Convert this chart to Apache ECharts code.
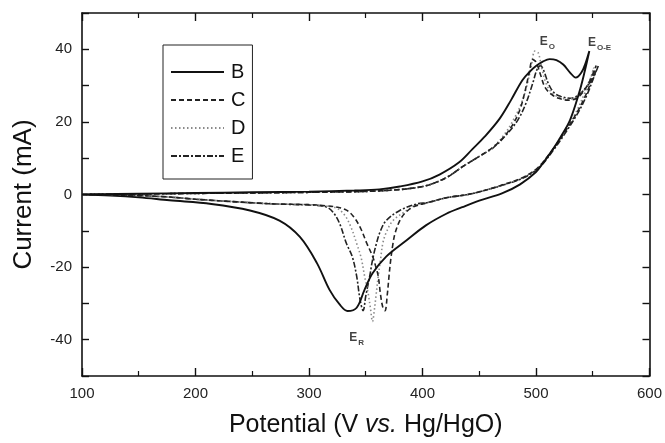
<!DOCTYPE html>
<html>
<head>
<meta charset="utf-8">
<script src="https://cdn.jsdelivr.net/npm/echarts@6/dist/echarts.min.js"></script>
<style>
  html, body { margin: 0; padding: 0; background: #fff; }
  #chart { width: 665px; height: 443px; }
</style>
</head>
<body>
<div id="chart"></div>
<script>
// Cyclic voltammograms: potential (mV vs. Hg/HgO) and current (mA), anodic sweep then cathodic sweep
const bPotential = [100,150,200,250,300,340,362,380,400,415,432,444,455,468,478,488,495,500,506,512,518,524,530,535,540,544,547,
                    543,538,530,522,515,507,500,486,470,450,435,421,403,386,368,356,349,342,334,327,318,307,292,274,248,214,177,150,125,100];
const bCurrent   = [0,0.2,0.4,0.6,0.8,1.1,1.4,2.2,3.6,5.5,8.8,12.5,16,20.9,26,31.5,34,35.4,36.6,37.3,37,35.8,33.6,32.2,33.6,36.5,39.5,
                    34,28,20.5,16,12.5,9,6.2,2.8,0.3,-1.7,-3.5,-5.3,-8.5,-12.6,-17.1,-21.7,-26.2,-31.2,-32.1,-30.3,-26.2,-18.9,-11.7,-7.2,-4.4,-2.6,-1.6,-0.8,-0.3,0];

const cPotential = [100,200,300,362,400,420,436,450,462,472,480,486,490,494,497,500,504,508,514,520,528,536,542,547,553,
                    549,544,536,526,515,502,488,470,459,440,421,405,392,385,380,376,374,372,370.5,369,367,365,363,361,358.5,356,351,345,339,333,325,315,300,270,240,200,177,150,100];
const cCurrent   = [0,0.3,0.6,1.0,2.2,4.5,7.8,10.5,13,16,19.5,23.5,28,33.5,37.2,36.5,33,29.5,27.5,26.5,26,26.5,28.5,31,35.5,
                    31.5,27.5,22.5,17.5,12.5,7.5,4.6,2.6,1.5,0,-0.9,-2.2,-3.4,-5,-7.2,-10.5,-13.5,-18,-22.5,-27.5,-32,-31,-27.5,-22.5,-19.5,-17,-13.5,-9,-6,-4.3,-3.5,-3.1,-2.8,-2.6,-2.1,-1.3,-0.7,-0.3,0];

const dPotential = [100,200,300,362,400,420,436,450,462,472,480,487,492,496,499,502,505,509,514,520,528,536,543,548,551,
                    548,543,535,525,515,502,488,470,459,440,421,405,392,386,374,368,365,363,361,359,357.5,356,354,352,349,346,342,337,331,323,310,300,270,240,200,177,150,100];
const dCurrent   = [0,0.3,0.6,1.0,2.2,4.5,7.8,10.5,13,16.5,20.5,25,30,35.5,39.5,39,35,30.5,28,26.8,26.3,26.8,29,32,35,
                    32,28,22.5,17.5,12.5,7.5,4.6,2.6,1.5,0,-0.9,-2.2,-3.2,-4.4,-7.2,-10.5,-13.5,-18,-22.5,-28,-32,-35,-31,-27,-22.5,-17.5,-13.5,-9,-5.5,-3.6,-3.1,-2.8,-2.6,-2.1,-1.3,-0.7,-0.3,0];

const ePotential = [100,200,300,362,400,420,436,450,462,474,484,491,497,501,504,507,511,516,522,530,538,544,549,555,
                    550,545,537,527,516,503,489,471,459,440,421,405,395,380,368,363,359.4,356,353.5,350,347.7,345,342,338,333,327,321,315,300,270,240,200,177,150,100];
const eCurrent   = [0,0.3,0.6,1.0,2.2,4.5,7.8,10.5,12.8,16.5,20.5,25,30.5,34.5,35.5,34,30.5,28,27,26.5,27.5,29.5,31.5,35.5,
                    31.5,27.5,22.5,17.5,12.5,7.5,4.6,2.6,1.5,0,-0.9,-2.2,-2.6,-4.4,-7.2,-10,-13.5,-18,-22.5,-28,-32,-29,-22.5,-17,-13.5,-8,-4.8,-3.4,-2.9,-2.6,-2.1,-1.3,-0.7,-0.3,0];

// Peak labels (position in data units)
const peakNames = ['O', 'O-E', 'R'];
const peakPotential = [510, 556, 342];
const peakCurrent   = [42.2, 41.8, -39.4];

const seriesNames = ['B', 'C', 'D', 'E'];
const xTicks = [100, 200, 300, 400, 500, 600];
const yTickLabels = [-40, -20, 0, 20, 40];

const FONT = '"Liberation Sans", Arial, Helvetica, sans-serif';
const zip = (xs, ys) => xs.map((x, i) => [x, ys[i]]);

const curveStyles = [
  { color: '#111', width: 1.9, type: 'solid' },
  { color: '#222', width: 1.6, type: [5, 3] },
  { color: '#8a8a8a', width: 1.6, type: [1.5, 2.5] },
  { color: '#222', width: 1.6, type: [6, 2, 2, 2] }
];
const curveData = [zip(bPotential, bCurrent), zip(cPotential, cCurrent), zip(dPotential, dCurrent), zip(ePotential, eCurrent)];

const series = seriesNames.map((name, i) => ({
  name: name,
  type: 'line',
  xAxisIndex: 0,
  yAxisIndex: 0,
  data: curveData[i],
  showSymbol: false,
  symbol: 'none',
  smooth: 0.35,
  z: 4 - i,
  color: curveStyles[i].color,
  lineStyle: curveStyles[i],
  animation: false
}));

series.push({
  name: 'peaks',
  type: 'scatter',
  data: peakNames.map((n, i) => [peakPotential[i], peakCurrent[i], n]),
  symbolSize: 0,
  silent: true,
  animation: false,
  label: {
    show: true,
    position: 'inside',
    formatter: p => '{e|E}{s|' + p.data[2] + '}',
    rich: {
      e: { fontFamily: FONT, fontSize: 12, fontWeight: 'bold', color: '#111', lineHeight: 20, verticalAlign: 'middle' },
      s: { fontFamily: FONT, fontSize: 8, fontWeight: 'bold', color: '#111', lineHeight: 20, verticalAlign: 'bottom', padding: [0, 0, 1, 1] }
    }
  }
});

const axisLineStyle = { color: '#111', width: 1.6 };

const chart = echarts.init(document.getElementById('chart'), null, { renderer: 'canvas' });
chart.setOption({
  backgroundColor: '#fff',
  animation: false,
  grid: { left: 82, right: 15, top: 13, bottom: 62, containLabel: false },
  legend: {
    data: seriesNames,
    orient: 'vertical',
    left: 163,
    top: 45,
    borderColor: '#222',
    borderWidth: 1,
    padding: [17, 7, 13, 7],
    itemWidth: 53,
    itemHeight: 14,
    itemGap: 8,
    selectedMode: false,
    itemStyle: { opacity: 0 },
    textStyle: { fontFamily: FONT, fontSize: 20, color: '#111', padding: [0, 0, 0, 2] }
  },
  xAxis: [
    {
      type: 'value', position: 'bottom', min: 100, max: 600, interval: 100,
      name: '{n|Potential (V }{i|vs.}{n| Hg/HgO)}',
      nameLocation: 'middle', nameGap: 37,
      nameTextStyle: {
        rich: {
          n: { fontFamily: FONT, fontSize: 25, color: '#111' },
          i: { fontFamily: FONT, fontSize: 25, color: '#111', fontStyle: 'italic' }
        }
      },
      axisLine: { onZero: false, lineStyle: axisLineStyle },
      axisTick: { inside: true, length: 8, lineStyle: { color: '#111', width: 1.4 } },
      minorTick: { show: true, splitNumber: 2, length: 5, lineStyle: { color: '#111', width: 1.2 } },
      axisLabel: {
        margin: 10, fontFamily: FONT, fontSize: 15, color: '#222',
        formatter: v => xTicks.includes(v) ? String(v) : ''
      },
      splitLine: { show: false }
    },
    {
      type: 'value', position: 'top', min: 100, max: 600, interval: 100,
      axisLine: { onZero: false, lineStyle: axisLineStyle },
      axisTick: { inside: true, length: 8, lineStyle: { color: '#111', width: 1.4 } },
      minorTick: { show: true, splitNumber: 2, length: 5, lineStyle: { color: '#111', width: 1.2 } },
      axisLabel: { show: false },
      splitLine: { show: false }
    }
  ],
  yAxis: [
    {
      type: 'value', position: 'left', min: -50, max: 50, interval: 10,
      name: 'Current (mA)',
      nameLocation: 'middle', nameGap: 45, nameRotate: 90,
      nameTextStyle: { fontFamily: FONT, fontSize: 26, color: '#111' },
      axisLine: { onZero: false, lineStyle: axisLineStyle },
      axisTick: { inside: true, length: 7, lineStyle: { color: '#111', width: 1.4 } },
      axisLabel: {
        margin: 10, fontFamily: FONT, fontSize: 15, color: '#222',
        formatter: v => yTickLabels.includes(v) ? String(v) : ''
      },
      splitLine: { show: false }
    },
    {
      type: 'value', position: 'right', min: -50, max: 50, interval: 10,
      axisLine: { onZero: false, lineStyle: axisLineStyle },
      axisTick: { inside: true, length: 7, lineStyle: { color: '#111', width: 1.4 } },
      axisLabel: { show: false },
      splitLine: { show: false }
    }
  ],
  series: series
});
</script>
</body>
</html>
